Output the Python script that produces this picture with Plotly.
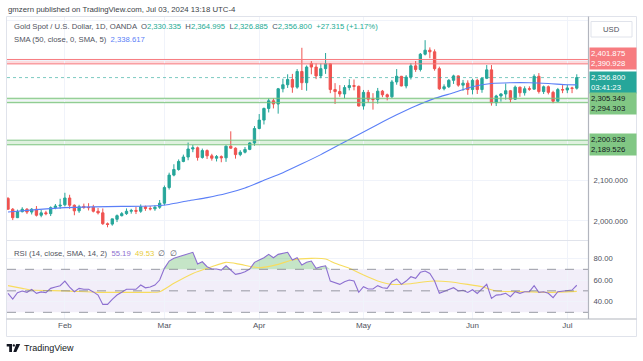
import plotly.graph_objects as go
import pandas as pd

# ---------------- data ----------------
dates = [d.strftime("%Y-%m-%d") for d in pd.bdate_range("2024-01-16", "2024-07-03") if d.strftime("%Y-%m-%d") != "2024-03-29"]

opens = [2056, 2029, 2008, 2023, 2029, 2022, 2029, 2014, 2020, 2018, 2033, 2037, 2040, 2057, 2039, 2025, 2036, 2034, 2034, 2024,
         2020, 1993, 1992, 2004, 2013, 2018, 2024, 2026, 2024, 2035, 2031, 2030, 2034, 2044, 2083, 2114, 2128, 2148, 2159, 2179,
         2182, 2158, 2175, 2162, 2156, 2160, 2157, 2186, 2181, 2165, 2171, 2178, 2194, 2230, 2251, 2280, 2299, 2291, 2329, 2339,
         2352, 2333, 2372, 2344, 2392, 2383, 2361, 2379, 2391, 2327, 2322, 2316, 2332, 2337, 2335, 2286, 2320, 2303, 2302, 2323,
         2314, 2309, 2346, 2360, 2336, 2358, 2386, 2377, 2415, 2425, 2421, 2379, 2329, 2334, 2350, 2361, 2338, 2343, 2327, 2350,
         2327, 2355, 2376, 2294, 2311, 2316, 2324, 2303, 2333, 2319, 2329, 2328, 2360, 2322, 2334, 2320, 2298, 2327, 2326, 2331,
         2330.335]
highs = [2059, 2032, 2028, 2034, 2032, 2032, 2037, 2027, 2025, 2036, 2042, 2055, 2070, 2065, 2041, 2040, 2043, 2044, 2040, 2032,
         2031, 1996, 2005, 2016, 2022, 2031, 2030, 2035, 2041, 2038, 2037, 2039, 2052, 2088, 2120, 2141, 2153, 2165, 2195, 2189,
         2185, 2180, 2178, 2167, 2164, 2163, 2188, 2223, 2183, 2176, 2184, 2196, 2236, 2266, 2282, 2305, 2305, 2331, 2354, 2365,
         2366, 2378, 2431, 2387, 2398, 2392, 2392, 2418, 2393, 2343, 2338, 2338, 2353, 2352, 2337, 2326, 2326, 2318, 2331, 2326,
         2317, 2351, 2378, 2361, 2363, 2393, 2398, 2418, 2450, 2432, 2427, 2384, 2340, 2353, 2364, 2362, 2351, 2350, 2354, 2354,
         2357, 2388, 2388, 2314, 2318, 2342, 2326, 2337, 2334, 2335, 2335, 2365, 2368, 2337, 2337, 2324, 2331, 2338, 2339, 2334,
         2364.995]
lows = [2028, 2002, 2007, 2021, 2017, 2016, 2011, 2009, 2014, 2012, 2029, 2030, 2036, 2030, 2014, 2020, 2030, 2026, 2021, 2016,
        1990, 1984, 1988, 1997, 2011, 2015, 2018, 2017, 2020, 2025, 2026, 2025, 2030, 2039, 2078, 2111, 2125, 2146, 2151, 2171,
        2150, 2155, 2154, 2150, 2148, 2146, 2147, 2180, 2155, 2161, 2168, 2176, 2187, 2228, 2240, 2270, 2280, 2267, 2320, 2331,
        2319, 2329, 2326, 2324, 2365, 2353, 2355, 2366, 2318, 2291, 2309, 2305, 2325, 2325, 2285, 2277, 2295, 2277, 2292, 2308,
        2300, 2306, 2339, 2335, 2330, 2352, 2371, 2372, 2412, 2405, 2374, 2326, 2325, 2331, 2341, 2334, 2324, 2314, 2315, 2316,
        2319, 2353, 2287, 2286, 2297, 2302, 2295, 2301, 2309, 2312, 2324, 2327, 2317, 2316, 2315, 2293, 2297, 2318, 2318, 2318,
        2326.885]
closes = [2029, 2008, 2023, 2029, 2022, 2029, 2014, 2020, 2018, 2033, 2037, 2039, 2057, 2039, 2025, 2035, 2034, 2033, 2024, 2020,
          1993, 1991, 2005, 2013, 2018, 2024, 2026, 2024, 2035, 2031, 2030, 2034, 2044, 2083, 2114, 2128, 2148, 2159, 2179, 2182,
          2158, 2175, 2162, 2156, 2160, 2157, 2186, 2181, 2165, 2171, 2178, 2194, 2230, 2251, 2280, 2299, 2291, 2329, 2339, 2352,
          2333, 2372, 2344, 2383, 2383, 2361, 2379, 2391, 2327, 2322, 2316, 2332, 2337, 2335, 2286, 2320, 2303, 2302, 2323, 2314,
          2309, 2346, 2360, 2336, 2358, 2386, 2377, 2415, 2425, 2421, 2379, 2329, 2334, 2350, 2361, 2338, 2343, 2327, 2350, 2327,
          2355, 2376, 2294, 2311, 2316, 2324, 2303, 2333, 2319, 2329, 2328, 2360, 2322, 2334, 2320, 2298, 2327, 2326, 2331, 2330,
          2356.8]
change_abs = 27.315
change_pct = 1.17

sma_idx = [0, 6, 12, 18, 24, 30, 34, 38, 42, 46, 50, 54, 58, 62, 66, 70, 74, 78, 82, 86, 90, 94, 98, 102, 106, 110, 114, 118, 120]
sma_val = [2022, 2028, 2033, 2035, 2036, 2037, 2041, 2050, 2058, 2068, 2082, 2101, 2120, 2142, 2165, 2190, 2215, 2240, 2264,
           2286, 2305, 2319, 2334, 2342, 2344, 2344, 2342, 2339, 2338.617]

rsi = [47.7, 42.4, 48.2, 49.8, 48.6, 51.4, 47.7, 49.0, 48.2, 52.3, 53.5, 54.8, 59.1, 53.5, 49.2, 52.3, 51.4, 51.4, 49.0, 46.1,
       37.4, 37.4, 42.1, 46.1, 48.6, 51.4, 51.4, 51.4, 55.4, 52.8, 53.5, 55.4, 60.0, 70.9, 77.7, 80.2, 81.7, 83.3, 84.9, 85.8,
       74.9, 77.0, 72.4, 70.3, 70.3, 69.3, 73.3, 69.3, 65.3, 66.2, 67.8, 70.3, 76.5, 78.6, 80.8, 83.9, 80.8, 83.9, 84.9, 85.8,
       78.6, 80.8, 74.0, 76.5, 77.7, 70.9, 72.4, 73.3, 59.1, 57.9, 56.0, 58.5, 60.0, 59.1, 48.6, 53.8, 51.7, 51.7, 54.8, 52.9,
       52.3, 58.5, 61.0, 56.0, 59.1, 63.1, 61.6, 67.2, 68.4, 66.2, 59.1, 47.7, 49.2, 50.7, 52.9, 49.8, 50.5, 48.5, 51.0, 47.5,
       52.0, 56.0, 43.0, 46.0, 46.5, 47.7, 44.5, 49.2, 47.7, 49.2, 49.2, 54.8, 48.6, 49.2, 47.7, 43.6, 49.2, 49.8, 49.8, 50.7,
       55.19]
rsi_ma_idx = [0, 3, 5, 12, 19, 26, 30, 32, 35, 39, 43, 46, 49, 53, 57, 60, 64, 67, 69, 72, 75, 78, 81, 85, 88, 90, 93, 97, 100,
              103, 109, 114, 120]
rsi_ma_val = [54.8, 52.3, 50.7, 50.0, 48.6, 48.6, 48.6, 49.2, 57.0, 66.2, 72.4, 76.5, 74.6, 71.5, 74.6, 78.7, 80.2, 79.6, 75.6,
              70.9, 64.7, 59.1, 56.0, 56.6, 58.5, 59.1, 58.5, 56.0, 53.8, 49.8, 49.2, 48.6, 49.53]

month_ticks = ["2024-02-01", "2024-03-01", "2024-04-01", "2024-05-01", "2024-06-03", "2024-07-01"]
month_labels = ["Feb", "Mar", "Apr", "May", "Jun", "Jul"]

red_zone = [2401.875, 2390.928]
green_zone_1 = [2305.349, 2294.303]
green_zone_2 = [2200.928, 2189.526]
last_price = 2356.800
countdown = "03:41:23"
price_ticks = [2000, 2100, 2200, 2300, 2400, 2500]
price_tick_text = ["2,000.000", "2,100.000", "", "", "", ""]
rsi_ticks = [40, 60, 80]
rsi_tick_text = ["40.00", "60.00", "80.00"]

# ---------------- style ----------------
W, H = 643, 361
FONT = "Liberation Sans, Arial, sans-serif"
UP, DOWN = "#26a69a", "#ef5350"
GRID = "#f0f3fa"
TXT = "#50535e"


def px(v):
    return v / W


def py(v):
    return 1 - v / H


fig = go.Figure()

fig.add_trace(go.Candlestick(
    x=dates, open=opens, high=highs, low=lows, close=closes,
    increasing=dict(line=dict(color=UP, width=1), fillcolor=UP),
    decreasing=dict(line=dict(color=DOWN, width=1), fillcolor=DOWN),
    whiskerwidth=0, xaxis="x", yaxis="y", showlegend=False, hoverinfo="skip"))

fig.add_trace(go.Scatter(
    x=[dates[i] for i in sma_idx], y=sma_val, mode="lines",
    line=dict(color="#5b7ff7", width=1.1, shape="spline", smoothing=0.6),
    xaxis="x", yaxis="y", showlegend=False, hoverinfo="skip"))

# RSI pane
fig.add_trace(go.Scatter(x=dates, y=[70] * len(dates), mode="lines", line=dict(width=0),
                         xaxis="x2", yaxis="y2", showlegend=False, hoverinfo="skip"))
fig.add_trace(go.Scatter(x=dates, y=[max(v, 70) for v in rsi], mode="lines", line=dict(width=0),
                         fill="tonexty", fillcolor="rgba(76,175,80,0.32)",
                         xaxis="x2", yaxis="y2", showlegend=False, hoverinfo="skip"))
fig.add_trace(go.Scatter(x=[dates[i] for i in rsi_ma_idx], y=rsi_ma_val, mode="lines",
                         line=dict(color="#f7dc5e", width=1.1, shape="spline", smoothing=0.6),
                         xaxis="x2", yaxis="y2", showlegend=False, hoverinfo="skip"))
fig.add_trace(go.Scatter(x=dates, y=rsi, mode="lines", line=dict(color="#8c6fd0", width=1.1),
                         xaxis="x2", yaxis="y2", showlegend=False, hoverinfo="skip"))

x_dom = [px(7), px(588.5)]
x_rng = [-0.21, 122.47]
common_x = dict(domain=x_dom, range=x_rng, type="category", tickvals=month_ticks, showgrid=True,
                gridcolor=GRID, gridwidth=1, zeroline=False, showline=False, ticks="", fixedrange=True)

fig.update_layout(
    width=W, height=H, margin=dict(l=0, r=0, t=0, b=0),
    paper_bgcolor="white", plot_bgcolor="white",
    font=dict(family=FONT, size=8, color=TXT),
    hovermode=False,
    xaxis=dict(**common_x, anchor="y", showticklabels=False, rangeslider=dict(visible=False)),
    xaxis2=dict(**common_x, anchor="y2", ticktext=month_labels, showticklabels=True,
                tickfont=dict(size=8, color=TXT), rangeslider=dict(visible=False)),
    yaxis=dict(domain=[py(240), py(16.5)], range=[1952.4, 2508.9], side="right", anchor="x",
               tickvals=price_ticks, ticktext=price_tick_text, showgrid=True, gridcolor=GRID,
               zeroline=False, ticks="", tickfont=dict(size=7.7, color=TXT), ticklabelstandoff=4),
    yaxis2=dict(domain=[py(319), py(240.5)], range=[23.8, 96.8], side="right", anchor="x2",
                tickvals=rsi_ticks, ticktext=rsi_tick_text, showgrid=True, gridcolor=GRID,
                zeroline=False, ticks="", tickfont=dict(size=7.7, color=TXT), ticklabelstandoff=4),
)

shapes = []
# RSI background band and guide lines
shapes.append(dict(type="rect", xref="x2 domain", yref="y2", x0=0, x1=1, y0=30, y1=70,
                   fillcolor="rgba(126,87,194,0.1)", line=dict(width=0), layer="below"))
for lvl in [70, 50, 30]:
    shapes.append(dict(type="line", xref="x2 domain", yref="y2", x0=0, x1=1, y0=lvl, y1=lvl,
                       line=dict(color="rgba(120,123,134,0.75)", width=1, dash="dash")))
# zones
for zone, fill, lc in [(red_zone, "rgba(242,54,69,0.18)", "#f77c80"),
                       (green_zone_1, "rgba(76,175,80,0.18)", "#7cc47f"),
                       (green_zone_2, "rgba(76,175,80,0.18)", "#7cc47f")]:
    shapes.append(dict(type="rect", xref="x domain", yref="y", x0=0, x1=1, y0=zone[1], y1=zone[0],
                       fillcolor=fill, line=dict(width=0), layer="below"))
    for v in zone:
        shapes.append(dict(type="line", xref="x domain", yref="y", x0=0, x1=1, y0=v, y1=v,
                           line=dict(color=lc, width=1)))
# last price dotted line
shapes.append(dict(type="line", xref="x domain", yref="y", x0=0, x1=1, y0=last_price, y1=last_price,
                   line=dict(color="rgba(38,166,154,0.6)", width=1, dash="dot")))
# frame and separators
shapes.append(dict(type="rect", xref="paper", yref="paper", x0=px(6.5), x1=px(636.5), y0=py(336.5), y1=py(16.5),
                   line=dict(color="#e0e3eb", width=1)))
shapes.append(dict(type="line", xref="paper", yref="paper", x0=px(6.5), x1=px(588.5), y0=py(240.5), y1=py(240.5),
                   line=dict(color="#e0e3eb", width=1)))
shapes.append(dict(type="line", xref="paper", yref="paper", x0=px(6.5), x1=px(636.5), y0=py(319), y1=py(319),
                   line=dict(color="#b2b5be", width=1.2)))
shapes.append(dict(type="line", xref="paper", yref="paper", x0=px(588.5), x1=px(588.5), y0=py(319), y1=py(16.5),
                   line=dict(color="#b2b5be", width=1.2)))
# USD box
shapes.append(dict(type="rect", xref="paper", yref="paper", x0=px(591), x1=px(632), y0=py(37), y1=py(21.5),
                   line=dict(color="#e0e3eb", width=1), fillcolor="white"))
# TradingView logo glyph
shapes.append(dict(type="path", xref="paper", yref="paper", fillcolor="#131722", line=dict(width=0),
                   path=f"M {px(6.7)} {py(344)} L {px(12)} {py(344)} L {px(12)} {py(352)} L {px(9.2)} {py(352)} "
                        f"L {px(9.2)} {py(346.6)} L {px(6.7)} {py(346.6)} Z"))
shapes.append(dict(type="circle", xref="paper", yref="paper", fillcolor="#131722", line=dict(width=0),
                   x0=px(12.6), x1=px(15), y0=py(346.6), y1=py(344.2)))
shapes.append(dict(type="path", xref="paper", yref="paper", fillcolor="#131722", line=dict(width=0),
                   path=f"M {px(16.2)} {py(344)} L {px(20.2)} {py(344)} L {px(16.3)} {py(352)} L {px(13.3)} {py(352)} Z"))
fig.update_layout(shapes=shapes)

teal = "#22ab94"
ann = []
ann.append(dict(xref="paper", yref="paper", x=px(6), y=py(10), xanchor="left", yanchor="middle", showarrow=False,
                text="gmzern published on TradingView.com, Jul 03, 2024 13:18 UTC-4",
                font=dict(size=7.8, color="#3c3f48")))


def v(t, c=teal):
    return f"<span style='color:{c}'>{t}</span>"


line1 = ("Gold Spot / U.S. Dollar, 1D, OANDA  O" + v(f"{opens[-1]:,.3f}") + "  H" + v(f"{highs[-1]:,.3f}") +
         "  L" + v(f"{lows[-1]:,.3f}") + "  C" + v(f"{closes[-1]:,.3f}") + "  " +
         v(f"+{change_abs:,.3f} (+{change_pct:.2f}%)"))
ann.append(dict(xref="paper", yref="paper", x=px(11.5), y=py(26.8), xanchor="left", yanchor="middle", showarrow=False,
                text=line1, font=dict(size=7.7, color=TXT)))
ann.append(dict(xref="paper", yref="paper", x=px(11.5), y=py(39.3), xanchor="left", yanchor="middle", showarrow=False,
                text="SMA (50, close, 0, SMA, 5)  " + v(f"{sma_val[-1]:,.3f}", "#5b7ff7"),
                font=dict(size=7.7, color=TXT)))
ann.append(dict(xref="paper", yref="paper", x=px(11.5), y=py(253.3), xanchor="left", yanchor="middle", showarrow=False,
                text="RSI (14, close, SMA, 14, 2)  " + v(f"{rsi[-1]:.2f}", "#8c6fd0") + "  " +
                     v(f"{rsi_ma_val[-1]:.2f}", "#e8cc3a") + "  ∅  ∅",
                font=dict(size=7.7, color=TXT)))
ann.append(dict(xref="paper", yref="paper", x=px(22), y=py(348.3), xanchor="left", yanchor="middle", showarrow=False,
                text="TradingView", font=dict(size=9, color="#131722")))
ann.append(dict(xref="paper", yref="paper", x=px(611.5), y=py(29.3), xanchor="center", yanchor="middle", showarrow=False,
                text="USD", font=dict(size=7.7, color=TXT)))

# price labels on the axis
for texts, price, shift, bg, fc in [
    ([f"{red_zone[0]:,.3f}", f"{red_zone[1]:,.3f}"], sum(red_zone) / 2, 3, "#f77c80", "white"),
    ([f"{last_price:,.3f}", countdown], last_price, -4.6, "#26a69a", "white"),
    ([f"{green_zone_1[0]:,.3f}", f"{green_zone_1[1]:,.3f}"], sum(green_zone_1) / 2, -3.5, "#81c784", "#131722"),
    ([f"{green_zone_2[0]:,.3f}", f"{green_zone_2[1]:,.3f}"], sum(green_zone_2) / 2, -2, "#81c784", "#131722"),
]:
    ann.append(dict(xref="paper", yref="y", x=px(588.5), y=price, yshift=shift, xanchor="left", yanchor="middle",
                    showarrow=False, text="<br>".join(texts), align="left", bgcolor=bg, width=44, height=19,
                    borderpad=1, font=dict(size=7.7, color=fc)))
fig.update_layout(annotations=ann)

fig.write_html("out.html", config={"displayModeBar": False, "staticPlot": True},
               post_script="document.body.style.margin='0';document.body.style.overflow='hidden';")
